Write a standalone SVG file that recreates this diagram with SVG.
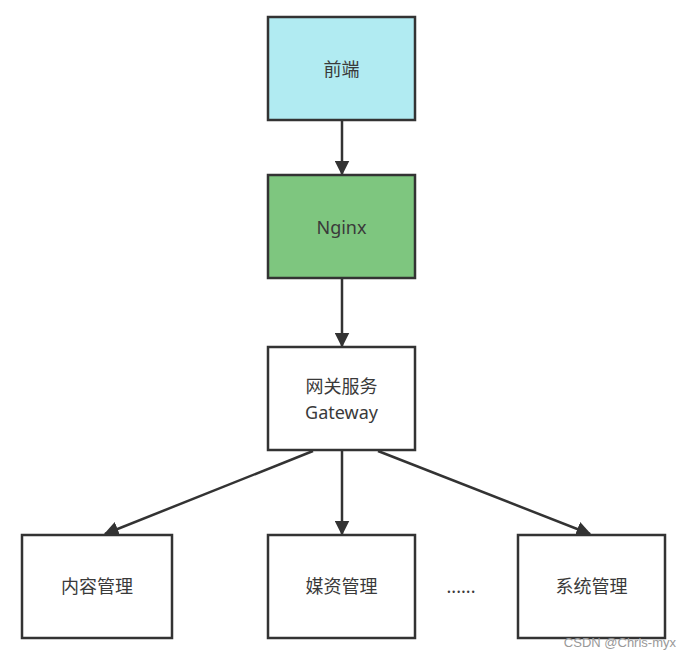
<svg xmlns="http://www.w3.org/2000/svg" width="690" height="659" viewBox="0 0 690 659">
<style>
.box{stroke:#333;stroke-width:2.5}
.lbl{font-family:"Noto Sans","Noto Sans CJK SC",sans-serif;font-size:18px;fill:#3a3a3a;text-anchor:middle}
.edge{stroke:#333;stroke-width:2.5;fill:none}
</style>
<defs>
<marker id="arr" viewBox="0 0 10 10" refX="9" refY="5" markerWidth="6" markerHeight="6" orient="auto" markerUnits="strokeWidth">
<path d="M0,0 L10,5 L0,10 z" fill="#333"/>
</marker>
</defs>
<rect width="690" height="659" fill="#fff"/>
<g id="connectors">
<line class="edge" x1="342" y1="120" x2="342" y2="174" marker-end="url(#arr)"/>
<line class="edge" x1="342" y1="278" x2="342" y2="346" marker-end="url(#arr)"/>
<line class="edge" x1="313" y1="451" x2="105" y2="534" marker-end="url(#arr)"/>
<line class="edge" x1="342" y1="451" x2="342" y2="534" marker-end="url(#arr)"/>
<line class="edge" x1="378" y1="451" x2="590" y2="534" marker-end="url(#arr)"/>
</g>
<g id="frontend">
<rect class="box" x="268" y="17" width="147" height="103" fill="#b1ebf2"/>
<text class="lbl" x="341.5" y="76">前端</text>
</g>
<g id="nginx">
<rect class="box" x="268" y="175" width="147" height="103" fill="#7ec67f"/>
<text class="lbl" x="341.5" y="234">Nginx</text>
</g>
<g id="gateway">
<rect class="box" x="268" y="347" width="147" height="103" fill="#fff"/>
<text class="lbl" x="341.5" y="393">网关服务</text>
<text class="lbl" x="341.5" y="419">Gateway</text>
</g>
<g id="content">
<rect class="box" x="22" y="535" width="150" height="103" fill="#fff"/>
<text class="lbl" x="97" y="593">内容管理</text>
</g>
<g id="media">
<rect class="box" x="268" y="535" width="147" height="103" fill="#fff"/>
<text class="lbl" x="341.5" y="593">媒资管理</text>
</g>
<g id="ellipsis">
<text class="lbl" x="461" y="593">......</text>
</g>
<g id="system">
<rect class="box" x="518" y="535" width="147" height="103" fill="#fff"/>
<text class="lbl" x="591.5" y="593">系统管理</text>
</g>
<text x="676" y="647" font-family="Liberation Sans, sans-serif" font-size="13" fill="#999" text-anchor="end">CSDN @Chris-myx</text>
</svg>
